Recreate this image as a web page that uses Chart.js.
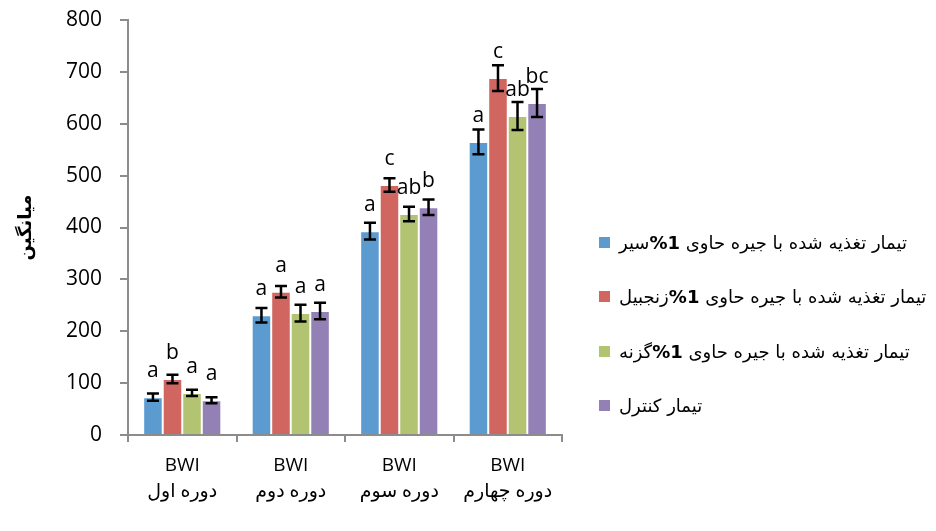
<!DOCTYPE html>
<html>
<head>
<meta charset="utf-8">
<script src="https://cdn.jsdelivr.net/npm/chart.js@4.4.1/dist/chart.umd.min.js"></script>
<style>
  html, body { margin: 0; padding: 0; background: #fff; }
  #wrap { position: relative; width: 936px; height: 531px; }
  #legend { position: absolute; left: 599px; top: 231px; font-family: "DejaVu Sans", sans-serif; font-size: 18px; color: #000; }
  .legend-item { display: flex; align-items: center; height: 22px; margin-bottom: 32.5px; }
  .legend-box { width: 11px; height: 11px; margin-right: 9px; flex: none; }
  .legend-item span.txt { direction: rtl; unicode-bidi: embed; white-space: nowrap; }
</style>
</head>
<body>
<div id="wrap">
  <canvas id="chart" width="936" height="531"></canvas>
  <div id="legend"></div>
</div>
<script>
// --- Data ---
const categories = [
  ["BWI", "دوره اول"],
  ["BWI", "دوره دوم"],
  ["BWI", "دوره سوم"],
  ["BWI", "دوره چهارم"]
];
const seriesNames = [
  "تیمار تغذیه شده با جیره حاوی  1%سیر",
  "تیمار تغذیه شده با جیره حاوی  1%زنجبیل",
  "تیمار تغذیه شده با جیره حاوی  1%گزنه",
  "تیمار کنترل"
];
const garlic = [73, 231, 393, 565];
const ginger = [108, 276, 482, 688];
const nettle = [81, 235, 426, 615];
const control = [67, 239, 439, 640];

const garlicErr = [7, 14, 16, 24];
const gingerErr = [8, 11, 13, 25];
const nettleErr = [6, 16, 14, 27];
const controlErr = [6, 16, 15, 27];

const garlicLetters = ["a", "a", "a", "a"];
const gingerLetters = ["b", "a", "c", "c"];
const nettleLetters = ["a", "a", "ab", "ab"];
const controlLetters = ["a", "a", "b", "bc"];

const yTicks = [0, 100, 200, 300, 400, 500, 600, 700, 800];
const colors = ["#5B9BD0", "#D0665F", "#B2C372", "#9380B5"];

const values = [garlic, ginger, nettle, control];
const errors = [garlicErr, gingerErr, nettleErr, controlErr];
const letters = [garlicLetters, gingerLetters, nettleLetters, controlLetters];

// --- error bars + significance letters ---
const errorBarPlugin = {
  id: 'errorBars',
  afterDatasetsDraw(chart) {
    const { ctx } = chart;
    const yScale = chart.scales.y;
    ctx.save();
    chart.data.datasets.forEach((ds, i) => {
      const meta = chart.getDatasetMeta(i);
      meta.data.forEach((bar, j) => {
        const v = ds.data[j];
        const e = errors[i][j];
        const top = yScale.getPixelForValue(v + e);
        const bot = yScale.getPixelForValue(v - e);
        ctx.strokeStyle = '#000';
        ctx.lineWidth = 2.5;
        ctx.beginPath();
        ctx.moveTo(bar.x, top); ctx.lineTo(bar.x, bot);
        ctx.moveTo(bar.x - 6, top); ctx.lineTo(bar.x + 6, top);
        ctx.moveTo(bar.x - 6, bot); ctx.lineTo(bar.x + 6, bot);
        ctx.stroke();

        ctx.fillStyle = '#000';
        ctx.font = '21px "Open Sans", sans-serif';
        ctx.textAlign = 'center';
        ctx.textBaseline = 'alphabetic';
        ctx.fillText(letters[i][j], bar.x, bar.y - 20);
      });
    });
    ctx.restore();
  }
};

const ctx = document.getElementById("chart").getContext("2d");
new Chart(ctx, {
  type: 'bar',
  data: {
    labels: categories,
    datasets: values.map((vals, i) => ({
      label: seriesNames[i],
      data: vals,
      backgroundColor: colors[i],
      borderColor: 'rgba(255,255,255,0.7)',
      borderWidth: 1,
      categoryPercentage: 0.72,
      barPercentage: 1.0
    }))
  },
  options: {
    responsive: false,
    animation: false,
    layout: { padding: { left: 0, right: 374, top: 20, bottom: 26 } },
    plugins: {
      legend: { display: false },
      tooltip: { enabled: false }
    },
    scales: {
      x: {
        afterFit: s => { s.height = 70; s.paddingLeft = 0; s.paddingRight = 0; },
        grid: { drawOnChartArea: false, color: '#8C8C8C', lineWidth: 2, tickLength: 7, offset: true },
        border: { color: '#8C8C8C', width: 2 },
        ticks: {
          color: '#000',
          padding: 10,
          font: { family: '"Open Sans", "DejaVu Sans", sans-serif', size: 19, lineHeight: 1.4 }
        }
      },
      y: {
        min: 0,
        max: 800,
        afterFit: s => { s.width = 128; s.paddingTop = 0; s.paddingBottom = 0; },
        afterBuildTicks: s => { s.ticks = yTicks.map(v => ({ value: v })); },
        grid: { drawOnChartArea: false, color: '#8C8C8C', lineWidth: 2, tickLength: 8 },
        border: { color: '#8C8C8C', width: 2 },
        ticks: {
          color: '#000',
          padding: 18,
          font: { family: '"Open Sans", sans-serif', size: 21 }
        },
        title: {
          display: true,
          text: 'میانگین',
          color: '#000',
          padding: { top: 16, bottom: 0 },
          font: { family: '"DejaVu Sans", sans-serif', size: 18, weight: 'bold' }
        }
      }
    }
  },
  plugins: [errorBarPlugin]
});

// --- legend ---
const legendEl = document.getElementById("legend");
seriesNames.forEach((name, i) => {
  const item = document.createElement("div");
  item.className = "legend-item";
  item.innerHTML = `<div class="legend-box" style="background:${colors[i]}"></div>` +
    `<span class="txt">${name.replace("1%", "<b>1%</b>")}</span>`;
  legendEl.appendChild(item);
});
</script>
</body>
</html>
